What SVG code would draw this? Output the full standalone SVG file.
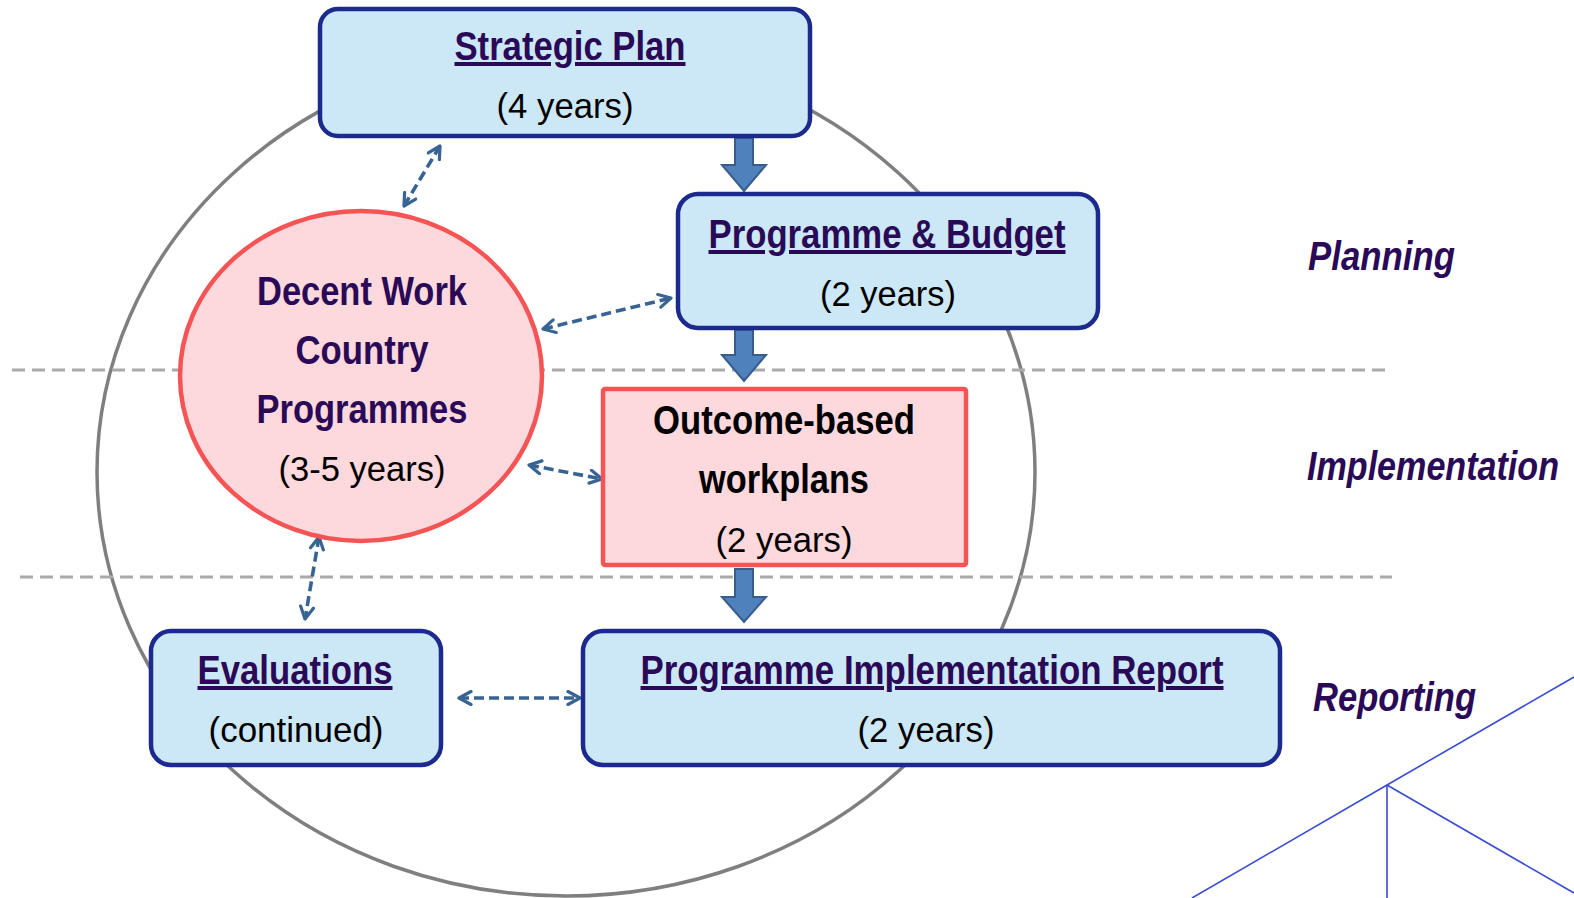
<svg xmlns="http://www.w3.org/2000/svg" width="1574" height="898" viewBox="0 0 1574 898">
  <defs>
    <style>
      .bg { fill: #ffffff; }
      .cycle { fill: none; stroke: #7f7f7f; stroke-width: 3.5; }
      .band { stroke: #aaaaaa; stroke-width: 3; stroke-dasharray: 13 7; fill: none; }
      .doc { fill: #cce8f6; stroke: #1b2a8c; stroke-width: 4.5; }
      .pink { fill: #fdd8dc; stroke: #f55454; stroke-width: 4.5; }
      .title { font-family: "Liberation Sans", Arial, sans-serif; font-weight: bold; font-size: 40px; fill: #2a0a57; text-anchor: middle; }
      .u { text-decoration: underline; }
      .black { fill: #000000; }
      .sub { font-family: "Liberation Sans", Arial, sans-serif; font-size: 35px; fill: #000000; text-anchor: middle; }
      .phase { font-family: "Liberation Sans", Arial, sans-serif; font-weight: bold; font-style: italic; font-size: 40px; fill: #2a0a57; }
      .flow { fill: #4f81bd; stroke: #385d8a; stroke-width: 2; }
      .link { fill: none; stroke: #386494; stroke-width: 3.6; stroke-dasharray: 10 5; marker-start: url(#chev); marker-end: url(#chev); }
      .deco { fill: none; stroke: #3a4cd0; stroke-width: 1.6; }
    </style>
    <marker id="chev" viewBox="0 0 16 16" refX="14" refY="8" markerWidth="16" markerHeight="16" markerUnits="userSpaceOnUse" orient="auto-start-reverse">
      <path d="M2,1.5 L14,8 L2,14.5" fill="none" stroke="#386494" stroke-width="3.2" stroke-linecap="round" stroke-linejoin="round"/>
    </marker>
  </defs>

  <rect class="bg" x="0" y="0" width="1574" height="898"/>

  <!-- background cycle and phase bands -->
  <ellipse class="cycle" cx="566" cy="472" rx="469" ry="424"/>
  <line class="band" x1="12" y1="370" x2="1385" y2="370"/>
  <line class="band" x1="20" y1="577" x2="1392" y2="577"/>

  <!-- corner decoration -->
  <g id="corner-lines">
    <polyline class="deco" points="1192,898 1387,785 1574,677"/>
    <line class="deco" x1="1387" y1="785" x2="1387" y2="898"/>
    <line class="deco" x1="1387" y1="785" x2="1574" y2="893"/>
  </g>

  <!-- phase labels -->
  <g id="phase-labels">
    <text class="phase" x="1308" y="270" textLength="147" lengthAdjust="spacingAndGlyphs">Planning</text>
    <text class="phase" x="1307" y="480" textLength="252" lengthAdjust="spacingAndGlyphs">Implementation</text>
    <text class="phase" x="1313" y="711" textLength="163" lengthAdjust="spacingAndGlyphs">Reporting</text>
  </g>

  <!-- connectors -->
  <g id="connectors">
    <path class="flow" d="M735,138 H753 V165 H766 L744,191 L722,165 H735 Z"/>
    <path class="flow" d="M735,330 H753 V355 H766 L744,381 L722,355 H735 Z"/>
    <path class="flow" d="M735,569 H753 V597 H766 L744,622 L722,597 H735 Z"/>
    <line class="link" x1="404" y1="206" x2="440" y2="146"/>
    <line class="link" x1="543" y1="329" x2="671" y2="298"/>
    <line class="link" x1="529" y1="465" x2="602" y2="479"/>
    <line class="link" x1="319" y1="537" x2="305" y2="619"/>
    <line class="link" x1="459" y1="698" x2="580" y2="698"/>
  </g>

  <g id="strategic-plan">
    <rect class="doc" x="320" y="9" width="490" height="127" rx="18"/>
    <text class="title u" x="570" y="60" textLength="231" lengthAdjust="spacingAndGlyphs">Strategic Plan</text>
    <text class="sub" x="565" y="118" textLength="137" lengthAdjust="spacingAndGlyphs">(4 years)</text>
  </g>

  <g id="programme-budget">
    <rect class="doc" x="678" y="194" width="420" height="134" rx="20"/>
    <text class="title u" x="887" y="248" textLength="357" lengthAdjust="spacingAndGlyphs">Programme &amp; Budget</text>
    <text class="sub" x="888" y="306" textLength="136" lengthAdjust="spacingAndGlyphs">(2 years)</text>
  </g>

  <g id="dwcp">
    <ellipse class="pink" cx="361" cy="376" rx="181" ry="165"/>
    <text class="title" x="362" y="305" textLength="210" lengthAdjust="spacingAndGlyphs">Decent Work</text>
    <text class="title" x="362" y="364" textLength="133" lengthAdjust="spacingAndGlyphs">Country</text>
    <text class="title" x="362" y="423" textLength="211" lengthAdjust="spacingAndGlyphs">Programmes</text>
    <text class="sub" x="362" y="481" textLength="167" lengthAdjust="spacingAndGlyphs">(3-5 years)</text>
  </g>

  <g id="workplans">
    <rect class="pink" x="603" y="389" width="363" height="176" rx="2"/>
    <text class="title black" x="784" y="434" textLength="262" lengthAdjust="spacingAndGlyphs">Outcome-based</text>
    <text class="title black" x="784" y="493" textLength="170" lengthAdjust="spacingAndGlyphs">workplans</text>
    <text class="sub" x="784" y="552" textLength="137" lengthAdjust="spacingAndGlyphs">(2 years)</text>
  </g>

  <g id="evaluations">
    <rect class="doc" x="151" y="631" width="290" height="134" rx="20"/>
    <text class="title u" x="295" y="684" textLength="195" lengthAdjust="spacingAndGlyphs">Evaluations</text>
    <text class="sub" x="296" y="742" textLength="175" lengthAdjust="spacingAndGlyphs">(continued)</text>
  </g>

  <g id="implementation-report">
    <rect class="doc" x="583" y="631" width="697" height="134" rx="20"/>
    <text class="title u" x="932" y="684" textLength="583" lengthAdjust="spacingAndGlyphs">Programme Implementation Report</text>
    <text class="sub" x="926" y="742" textLength="137" lengthAdjust="spacingAndGlyphs">(2 years)</text>
  </g>
</svg>
